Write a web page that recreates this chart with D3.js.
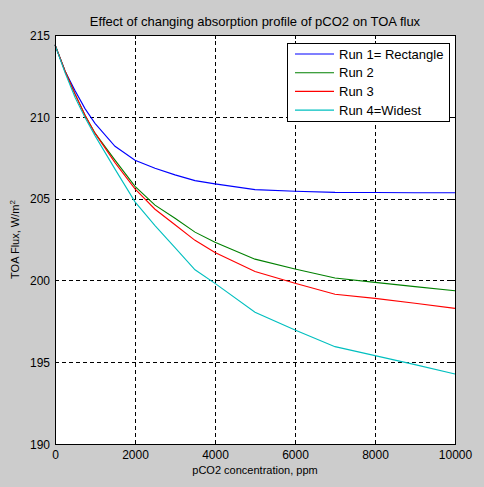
<!DOCTYPE html>
<html>
<head>
<meta charset="utf-8">
<script src="https://cdn.jsdelivr.net/npm/d3@7"></script>
<style>
  body { margin: 0; background: #cccccc; }
  svg { display: block; font-family: "Liberation Sans", Arial, sans-serif; }
  .grid line { stroke: #000; stroke-dasharray: 4,3; shape-rendering: crispEdges; }
  .grid path { display: none; }
  .axis path, .axis line { stroke: #000; shape-rendering: crispEdges; }
  .axis text { fill: #000; font-size: 12px; }
  .line { fill: none; stroke-width: 1.1; }
</style>
</head>
<body>
<svg width="484" height="487"></svg>
<script>
// pCO2 values (ppm) where the curves were read
var pco2 = [0, 250, 500, 750, 1000, 1500, 2000, 2500, 3000, 3500, 4000, 5000, 6000, 7000, 8000, 9000, 10000];

// TOA flux, W/m2, one array per run
var run1 = [214.4, 212.8, 211.6, 210.5, 209.6, 208.2, 207.35, 206.85, 206.45, 206.1, 205.9, 205.55, 205.45, 205.38, 205.37, 205.36, 205.36];
var run2 = [214.4, 212.8, 211.4, 210.1, 209.0, 207.35, 205.75, 204.6, 203.8, 202.95, 202.33, 201.3, 200.7, 200.15, 199.88, 199.62, 199.37];
var run3 = [214.4, 212.8, 211.4, 210.1, 209.0, 207.2, 205.6, 204.35, 203.4, 202.45, 201.7, 200.55, 199.82, 199.15, 198.9, 198.6, 198.29];
var run4 = [214.4, 212.7, 211.2, 209.95, 208.85, 206.8, 204.8, 203.35, 202.0, 200.65, 199.82, 198.05, 196.97, 195.95, 195.4, 194.85, 194.28];

var seriesNames = ["Run 1= Rectangle", "Run 2", "Run 3", "Run 4=Widest"];
var seriesColors = ["#0000ff", "#008000", "#ff0000", "#00bfbf"];

var xTicks = [0, 2000, 4000, 6000, 8000, 10000];
var yTicks = [190, 195, 200, 205, 210, 215];

var margin = {top: 35, right: 29, bottom: 43, left: 55};
var width = 400, height = 409;

var svg = d3.select("svg");

var g = svg.append("g")
  .attr("transform", "translate(" + margin.left + "," + margin.top + ")");

var xScale = d3.scaleLinear().domain([0, 10000]).range([0, width]);
var yScale = d3.scaleLinear().domain([190, 215]).range([height, 0]);

// white plot area
g.append("rect")
  .attr("width", width)
  .attr("height", height)
  .attr("fill", "#fff");

// dashed grid
g.append("g")
  .attr("class", "grid")
  .attr("transform", "translate(0," + height + ")")
  .call(d3.axisBottom(xScale).tickValues(xTicks.slice(1, -1)).tickSize(-height).tickFormat(""));

g.append("g")
  .attr("class", "grid")
  .call(d3.axisLeft(yScale).tickValues(yTicks.slice(1, -1)).tickSize(-width).tickFormat(""));

// lines
var runs = [run1, run2, run3, run4];
var line = d3.line()
  .x(function(d, i) { return xScale(pco2[i]); })
  .y(function(d) { return yScale(d); });

g.selectAll(".line")
  .data(runs)
  .enter().append("path")
  .attr("class", "line")
  .attr("stroke", function(d, i) { return seriesColors[i]; })
  .attr("d", line);

// axes with inward ticks, all four sides
var xAxis = g.append("g")
  .attr("class", "axis")
  .attr("transform", "translate(0," + height + ")")
  .call(d3.axisBottom(xScale).tickValues(xTicks).tickFormat(d3.format("d")).tickSize(-4).tickPadding(0).tickSizeOuter(0));
xAxis.selectAll("text").attr("y", 15).attr("dy", 0);

var yAxis = g.append("g")
  .attr("class", "axis")
  .call(d3.axisLeft(yScale).tickValues(yTicks).tickSize(-4).tickSizeOuter(0));
yAxis.selectAll("text").attr("x", -5).attr("dy", "0.35em");

g.append("g")
  .attr("class", "axis")
  .call(d3.axisTop(xScale).tickValues(xTicks).tickSize(-4).tickSizeOuter(0).tickFormat(""));

g.append("g")
  .attr("class", "axis")
  .attr("transform", "translate(" + width + ",0)")
  .call(d3.axisRight(yScale).tickValues(yTicks).tickSize(-4).tickSizeOuter(0).tickFormat(""));

g.append("rect")
  .attr("width", width)
  .attr("height", height)
  .attr("fill", "none")
  .attr("stroke", "#000")
  .attr("shape-rendering", "crispEdges");

// title and axis labels
svg.append("text")
  .attr("x", margin.left + width / 2)
  .attr("y", 26)
  .attr("text-anchor", "middle")
  .attr("font-size", "13px")
  .text("Effect of changing absorption profile of pCO2 on TOA flux");

svg.append("text")
  .attr("x", margin.left + width / 2)
  .attr("y", 474)
  .attr("text-anchor", "middle")
  .attr("font-size", "11px")
  .text("pCO2 concentration, ppm");

var ylab = svg.append("text")
  .attr("transform", "translate(19," + (margin.top + height / 2) + ") rotate(-90)")
  .attr("text-anchor", "middle")
  .attr("font-size", "11px");
ylab.append("tspan").text("TOA Flux, W/m");
ylab.append("tspan").attr("font-size", "8px").attr("dy", "-0.5em").text("2");

// legend
var legend = svg.append("g").attr("transform", "translate(287,43)");
legend.append("rect")
  .attr("width", 162)
  .attr("height", 78)
  .attr("fill", "#fff")
  .attr("stroke", "#000")
  .attr("shape-rendering", "crispEdges");

var items = legend.selectAll(".item")
  .data(seriesNames)
  .enter().append("g")
  .attr("class", "item")
  .attr("transform", function(d, i) { return "translate(0," + (11 + i * 18.7) + ")"; });

items.append("line")
  .attr("x1", 8).attr("x2", 47)
  .attr("stroke", function(d, i) { return seriesColors[i]; })
  .attr("stroke-width", 1.1);

items.append("text")
  .attr("x", 52)
  .attr("dy", "0.35em")
  .attr("font-size", "13px")
  .text(function(d) { return d; });
</script>
</body>
</html>
